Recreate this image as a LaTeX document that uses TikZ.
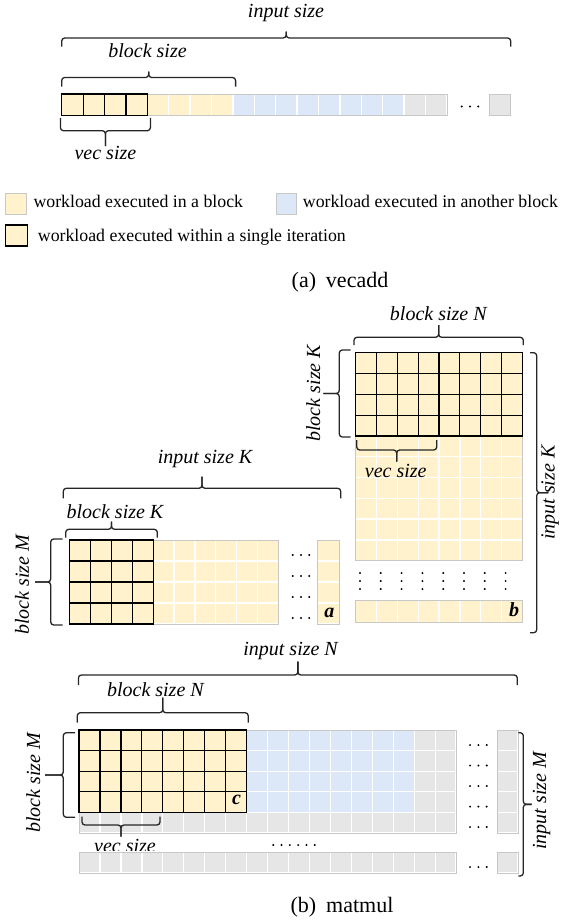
\documentclass[tikz,border=0pt]{standalone}
\usepackage{fontspec}
\setmainfont{Liberation Serif}
\definecolor{yel}{HTML}{FFF2CC}
\definecolor{blu}{HTML}{DCE8F8}
\definecolor{gry}{HTML}{E6E6E6}
\definecolor{edge}{HTML}{C8C8C8}
\newcommand{\mycells}[7]{%
  \foreach \ci in {1,...,#3}{%
    \foreach \ri in {1,...,#4}{%
      \draw[#7] ({#1+(\ci-1)*#5},{#2+(\ri-1)*#6}) rectangle ++(#5,#6);
    }}}
\newcommand{\hbr}[5]{%
  \draw[brc] (#1,#3) -- (#1,#4) -- ({(#1+#2)/2},#4) -- ({(#1+#2)/2},#5);
  \draw[brc] (#2,#3) -- (#2,#4) -- ({(#1+#2)/2},#4) -- ({(#1+#2)/2},#5);}
\newcommand{\vbr}[5]{%
  \draw[brc] (#3,#1) -- (#4,#1) -- (#4,{(#1+#2)/2}) -- (#5,{(#1+#2)/2});
  \draw[brc] (#3,#2) -- (#4,#2) -- (#4,{(#1+#2)/2}) -- (#5,{(#1+#2)/2});}
\newcommand{\threedots}[2]{\foreach \k in {-1,0,1}{\fill ({#1+\k*8.3},#2) circle[radius=1.1];}}
\newcommand{\vthree}[2]{\foreach \k in {-1,0,1}{\fill (#1,{#2+\k*8}) circle[radius=1.1];}}
\begin{document}
\begin{tikzpicture}[x=1pt,y=-1pt,
  brc/.style={line width=1.3pt, rounded corners=3pt, black!85},
  lbl/.style={font=\fontsize{20}{24}\selectfont\itshape, inner sep=0pt},
  leg/.style={font=\fontsize{17.8}{22}\selectfont, inner sep=0pt, anchor=base west},
  captxt/.style={font=\fontsize{22}{26}\selectfont, inner sep=0pt},
  bl/.style={font=\fontsize{20}{24}\selectfont\bfseries\itshape, inner sep=0pt},
  lite/.style={fill=#1, draw=white, line width=1.3pt},
  boldc/.style={fill=yel, draw=black, line width=1.2pt},
  outl/.style={draw=edge, line width=0.8pt},
]
\useasboundingbox (0,0) rectangle (561,923);

% ---------------- vecadd ----------------
\mycells{147.3}{94}{4}{1}{21.4}{21.4}{lite=yel}
\mycells{232.9}{94}{8}{1}{21.4}{21.4}{lite=blu}
\mycells{404.1}{94}{2}{1}{21.4}{21.4}{lite=gry}
\draw[outl] (147.3,94) rectangle (446.9,115.4);
\mycells{489.3}{94}{1}{1}{21.4}{21.4}{lite=gry}
\draw[outl] (489.3,94) rectangle (510.7,115.4);
\mycells{61.7}{94}{4}{1}{21.4}{21.4}{boldc}
\threedots{470}{106.5}

\hbr{61.7}{510.7}{46.7}{38}{31.7}
\node[lbl] (vin) at (286,13) {input size};
\hbr{61.7}{235.6}{86.7}{77.5}{71.7}
\node[lbl] (vbl) at (147.5,51) {block size};
\hbr{60.4}{150.4}{118}{130.7}{146}
\node[lbl] (vvec) at (105.4,153) {vec size};

% legend
\draw[fill=yel, outl] (5.7,193.3) rectangle (26.7,214);
\node[leg] (l1) at (33.3,207.5) {workload executed in a block};
\draw[fill=blu, outl] (276.5,193.3) rectangle (296.7,214);
\node[leg] (l2) at (302.7,207.5) {workload executed in another block};
\draw[boldc] (5.7,225) rectangle (27.3,246);
\node[leg] (l3) at (37.7,241.5) {workload executed within a single iteration};
\node[captxt] (capa) at (340,282) {(a)\hspace{0.45em}vecadd};

% ---------------- matrix A ----------------
\mycells{153.3}{540}{6}{4}{20.83}{21}{lite=yel}
\draw[outl] (153.3,540) rectangle (278.3,624);
\mycells{317.7}{540}{1}{4}{21.6}{21}{lite=yel}
\draw[outl] (317.7,540) rectangle (339.3,624);
\mycells{69.3}{540}{4}{4}{21}{21}{boldc}
\threedots{301}{555}
\threedots{301}{576}
\threedots{301}{597}
\threedots{301}{618}
\node[bl] (la) at (329.3,613) {a};
\hbr{63.3}{340.7}{498.3}{488.3}{476.7}
\node[lbl] (aink) at (205,459.3) {input size K};
\hbr{65.7}{157.3}{537.7}{529.3}{521.7}
\node[lbl] (abk) at (115,511.7) {block size K};
\vbr{539}{625}{62.7}{50.7}{35}
\node[lbl, rotate=90] (abm) at (22,585) {block size M};

% ---------------- matrix B ----------------
\mycells{355.7}{436}{8}{6}{20.83}{20.78}{lite=yel}
\draw[outl] (355.7,352.7) rectangle (522.3,560.7);
\mycells{355.7}{352.7}{8}{4}{20.83}{20.83}{boldc}
\foreach \i in {0,...,7}{\vthree{360+\i*20.8}{581}}
\mycells{355.7}{600.7}{8}{1}{20.83}{22}{lite=yel}
\draw[outl] (355.7,600.7) rectangle (522.3,622.7);
\node[bl] (lb) at (514,610) {b};
\hbr{354}{523.3}{345}{337.3}{325}
\node[lbl] (bbn) at (438.3,314) {block size N};
\vbr{350}{437}{350.7}{339.3}{323.3}
\node[lbl, rotate=90] (bbk) at (313.3,393.3) {block size K};
\hbr{356.7}{436.7}{440}{450}{461.7}
\node[lbl] (bvec) at (395.7,471) {vec size};
\vbr{352.7}{632.7}{530}{536.7}{548.3}
\node[lbl, rotate=90] (bink) at (550,492.7) {input size K};

% ---------------- matrix C ----------------
\mycells{246.6}{730}{8}{4}{20.95}{20.6}{lite=blu}
\mycells{414.2}{730}{2}{4}{20.95}{20.6}{lite=gry}
\mycells{79}{812.4}{18}{1}{20.95}{20.6}{lite=gry}
\draw[outl] (79,730) rectangle (456.1,833);
\mycells{497}{730}{1}{5}{21}{20.6}{lite=gry}
\draw[outl] (497,730) rectangle (518,833);
\mycells{79}{730}{8}{4}{20.95}{20.6}{boldc}
\node[bl] (lc) at (236.5,800) {c};
\foreach \yy in {745,765.5,786,806.6,827,867}{\threedots{478.4}{\yy}}
\foreach \k in {0,...,5}{\fill ({294+(\k-2.5)*8.3},845) circle[radius=1.1];}
\hbr{78.4}{517.3}{685}{675}{661.7}
\node[lbl] (cinn) at (290.6,650.7) {input size N};
\hbr{77.3}{248.2}{722.7}{712.7}{697.7}
\node[lbl] (cbn) at (155.4,689.3) {block size N};
\vbr{732.7}{817.3}{75}{63.3}{45}
\node[lbl, rotate=90] (cbm) at (33.3,783) {block size M};
\hbr{82}{160}{816.7}{825}{836.7}
\node[lbl] (cvec) at (125,846) {vec size};
\mycells{79}{852}{18}{1}{20.95}{21}{lite=gry}
\draw[outl] (79,852) rectangle (456.1,873);
\mycells{497}{852}{1}{1}{21}{21}{lite=gry}
\draw[outl] (497,852) rectangle (518,873);
\vbr{732.7}{876}{518.3}{523.3}{531.7}
\node[lbl, rotate=90] (cinm) at (541.7,801) {input size M};
\node[captxt] (capb) at (342,907) {(b)\hspace{0.45em}matmul};
\end{tikzpicture}
\end{document}
